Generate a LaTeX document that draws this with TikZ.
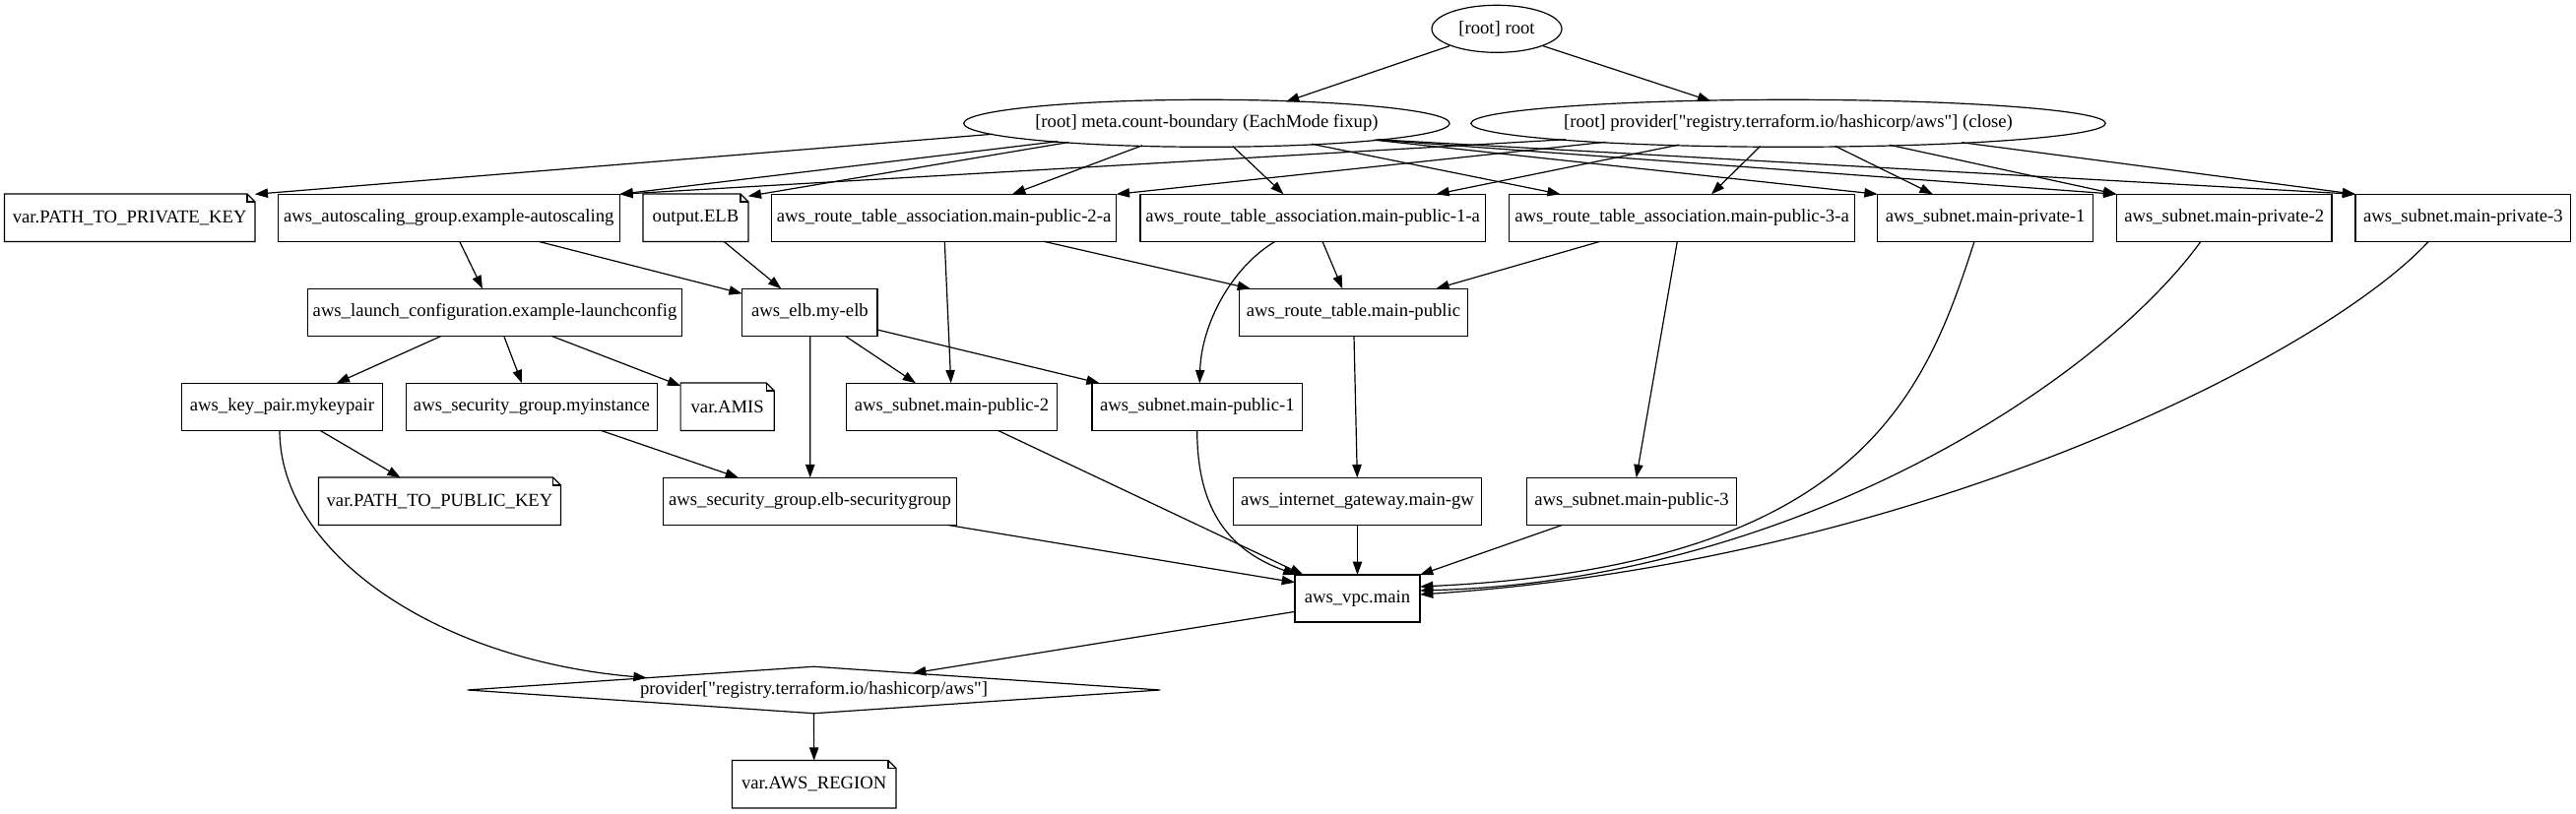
\documentclass[tikz,border=0pt]{standalone}
\usepackage{fontspec}
\setmainfont{Liberation Serif}[Ligatures=TeXOff]
\usetikzlibrary{shapes.geometric,arrows.meta,calc}
\tikzset{
  lbl/.style={font=\fontsize{14}{16}\selectfont, inner sep=0pt, minimum height=36pt, align=center},
  box/.style={lbl, draw, rectangle, line width=0.9pt},
  notebox/.style={lbl, rectangle},
  oval/.style={lbl, draw, ellipse, line width=0.9pt},
  dia/.style={lbl, draw, diamond, shape aspect=14.67, minimum width=528pt, line width=0.9pt},
  notepath/.style={line width=0.9pt},
  conn/.style={line width=0.9pt, -{Triangle[length=10pt,width=7pt]}},
}
\newcommand{\drawnote}[1]{%
  \draw[notepath] (#1.south west) -- (#1.south east) -- ([yshift=-6pt]#1.north east) -- ([xshift=-6pt]#1.north east) -- (#1.north west) -- cycle;
  \draw[notepath] ([xshift=-6pt]#1.north east) -- ([xshift=-6pt,yshift=-6pt]#1.north east) -- ([yshift=-6pt]#1.north east);}
\begin{document}
\begin{tikzpicture}[x=0.75pt,y=-0.75pt]
\useasboundingbox (0,0) rectangle (2616,827);
% ellipses
\node[oval, minimum width=99pt] (root) at (1520,29.3) {[root] root};
\node[oval, minimum width=370pt] (meta) at (1225.4,125.3) {[root] meta.count-boundary (EachMode fixup)};
\node[oval, minimum width=478.5pt] (prov) at (1816,125.3) {[root] provider["registry.terraform.io/hashicorp/aws"] (close)};
% row 2
\node[notebox, minimum width=190.5pt] (privkey) at (131.7,221.3) {var.PATH\_TO\_PRIVATE\_KEY};
\node[box, minimum width=260.25pt] (autosc) at (455.8,221.3) {aws\_autoscaling\_group.example-autoscaling};
\node[notebox, minimum width=79.8pt] (outelb) at (706.5,221.3) {output.ELB};
\node[box, minimum width=262.8pt] (rta2) at (958.5,221.3) {aws\_route\_table\_association.main-public-2-a};
\node[box, minimum width=262.7pt] (rta1) at (1333.2,221.3) {aws\_route\_table\_association.main-public-1-a};
\node[box, minimum width=263pt] (rta3) at (1708,221.3) {aws\_route\_table\_association.main-public-3-a};
\node[box, minimum width=164.1pt] (priv1) at (2016.1,221.3) {aws\_subnet.main-private-1};
\node[box, minimum width=164pt] (priv2) at (2258.7,221.3) {aws\_subnet.main-private-2};
\node[box, minimum width=164pt] (priv3) at (2501.4,221.3) {aws\_subnet.main-private-3};
% row 3
\node[box, minimum width=284.7pt] (lc) at (502.5,317.3) {aws\_launch\_configuration.example-launchconfig};
\node[box, minimum width=103pt] (elb) at (822.4,317.3) {aws\_elb.my-elb};
\node[box, minimum width=174.3pt] (rtpub) at (1374.5,317.3) {aws\_route\_table.main-public};
% row 4
\node[box, minimum width=152.7pt] (kp) at (286.5,413.3) {aws\_key\_pair.mykeypair};
\node[box, minimum width=191pt] (sgmi) at (540,413.3) {aws\_security\_group.myinstance};
\node[notebox, minimum width=71pt] (amis) at (738.7,413.3) {var.AMIS};
\node[box, minimum width=160.2pt] (sp2) at (966.5,413.3) {aws\_subnet.main-public-2};
\node[box, minimum width=160.3pt] (sp1) at (1215.9,413.3) {aws\_subnet.main-public-1};
% row 5
\node[notebox, minimum width=184.2pt] (pubkey) at (446.5,509.3) {var.PATH\_TO\_PUBLIC\_KEY};
\node[box, minimum width=223.8pt] (sgelb) at (822.5,509.3) {aws\_security\_group.elb-securitygroup};
\node[box, minimum width=188.7pt] (igw) at (1378.5,509.3) {aws\_internet\_gateway.main-gw};
\node[box, minimum width=160.3pt] (sp3) at (1657,509.3) {aws\_subnet.main-public-3};
% lower rows
\node[box, minimum width=95.3pt] (vpc) at (1378.5,608) {aws\_vpc.main};
\node[dia] (prv) at (826.5,701) {provider["registry.terraform.io/hashicorp/aws"]};
\node[notebox, minimum width=124.5pt] (region) at (826.7,796.7) {var.AWS\_REGION};
% note outlines
\drawnote{privkey}
\drawnote{outelb}
\drawnote{amis}
\drawnote{pubkey}
\drawnote{region}
% root edges
\draw[conn] ($(root)+(-48,17.4)$) -- ($(meta)+(80.6,-22)$);
\draw[conn] ($(root)+(47,17.4)$) -- ($(prov)+(-78.7,-22.6)$);
% meta edges
\draw[conn] ($(meta)+(-217.6,11)$) -- ($(privkey)+(127,-24)$);
\draw[conn] ($(meta)+(-151.4,18.4)$) -- ($(autosc)+(173.5,-24)$);
\draw[conn] ($(meta)+(-140,19.2)$) -- ($(outelb)+(53.2,-22)$);
\draw[conn] ($(meta)+(-65.4,22.5)$) -- ($(rta2)+(69.5,-24)$);
\draw[conn] ($(meta)+(26.4,23.2)$) -- ($(rta1)+(-29.7,-24)$);
\draw[conn] ($(meta)+(106.6,21)$) -- ($(rta3)+(-123.3,-24)$);
\draw[conn] ($(meta)+(170,16.9)$) -- ($(priv1)+(-109.4,-24)$);
\draw[conn] ($(meta)+(172,16.7)$) -- ($(priv2)+(-109.3,-24)$);
\draw[conn] ($(meta)+(174,16.5)$) -- ($(priv3)+(-109.3,-24)$);
% provider close edges
\draw[conn] ($(prov)+(-226,16.4)$) -- ($(autosc)+(173.5,-24)$);
\draw[conn] ($(prov)+(-185.4,19)$) -- ($(rta2)+(175.2,-24)$);
\draw[conn] ($(prov)+(-111,21.8)$) -- ($(rta1)+(125.2,-24)$);
\draw[conn] ($(prov)+(-28.4,23.2)$) -- ($(rta3)+(30,-24)$);
\draw[conn] ($(prov)+(47.5,23)$) -- ($(priv1)+(-53.3,-24)$);
\draw[conn] ($(prov)+(103,22)$) -- ($(priv2)+(-109.3,-24)$);
\draw[conn] ($(prov)+(176,19.4)$) -- ($(priv3)+(-109.3,-24)$);
% row 2 -> 3
\draw[conn] ($(autosc)+(10.9,24)$) -- ($(lc)+(-12.5,-24)$);
\draw[conn] ($(autosc)+(90.9,24)$) -- ($(elb)+(-68.7,-19)$);
\draw[conn] ($(outelb)+(28.5,24)$) -- ($(elb)+(-29.1,-24)$);
\draw[conn] ($(rta2)+(0.8,24)$) -- ($(sp2)+(-0.8,-24)$);
\draw[conn] ($(rta2)+(101.5,24)$) -- ($(rtpub)+(-104.5,-24)$);
\draw[conn] ($(rta1)+(9.8,24)$) -- ($(rtpub)+(-11.2,-24)$);
\draw[conn] ($(rta1)+(-38.2,24)$) .. controls (1250,272) and (1220,330) .. ($(sp1)+(2.4,-24)$);
\draw[conn] ($(rta3)+(-83,24)$) -- ($(rtpub)+(83.8,-24)$);
\draw[conn] ($(rta3)+(-4.7,24)$) -- ($(sp3)+(4.7,-24)$);
% row 3 -> 4
\draw[conn] ($(lc)+(-54.2,24)$) -- ($(kp)+(55.2,-24)$);
\draw[conn] ($(lc)+(9.2,24)$) -- ($(sgmi)+(-10,-24)$);
\draw[conn] ($(lc)+(57.5,24)$) -- ($(amis)+(-47.4,-21.3)$);
\draw[conn] ($(elb)+(0.3,24)$) -- ($(sgelb)+(0.2,-24)$);
\draw[conn] ($(elb)+(35.9,24)$) -- ($(sp2)+(-36.5,-24)$);
\draw[conn] ($(elb)+(68.6,17.7)$) -- ($(sp1)+(-99.2,-24)$);
\draw[conn] ($(rtpub)+(0.5,24)$) -- ($(igw)+(-0.2,-24)$);
% lower edges
\draw[conn] ($(kp)+(38.5,24)$) -- ($(pubkey)+(-39.8,-24)$);
\draw[conn] ($(kp)+(-2.5,24)$) .. controls (284,560) and (440,670) .. ($(prv)+(-169.8,-12.4)$);
\draw[conn] ($(sgmi)+(70,24)$) -- ($(sgelb)+(-72.5,-24)$);
\draw[conn] ($(sp2)+(46.8,24)$) -- ($(vpc)+(-55,-24)$);
\draw[conn] ($(sp1)+(-0.2,24)$) .. controls (1215.7,520) and (1250,560) .. ($(vpc)+(-62,-24)$);
\draw[conn] ($(sgelb)+(139.2,24)$) -- ($(vpc)+(-63.5,-16.3)$);
\draw[conn] ($(igw)+(0,24)$) -- ($(vpc)+(0,-24)$);
\draw[conn] ($(sp3)+(-70.3,24)$) -- ($(vpc)+(63.5,-24)$);
\draw[conn] ($(priv1)+(-11.1,24)$) .. controls (1955,400) and (1890,575) .. ($(vpc)+(63.5,-12)$);
\draw[conn] ($(priv2)+(-23.7,24)$) .. controls (2130,390) and (1820,590) .. ($(vpc)+(63.5,-8)$);
\draw[conn] ($(priv3)+(-35.1,24)$) .. controls (2360,360) and (1950,570) .. ($(vpc)+(63.5,-4)$);
\draw[conn] ($(vpc)+(-63.5,13.4)$) -- ($(prv)+(100.5,-17.1)$);
\draw[conn] ($(prv)+(0,24)$) -- ($(region)+(0,-24)$);
\end{tikzpicture}
\end{document}
